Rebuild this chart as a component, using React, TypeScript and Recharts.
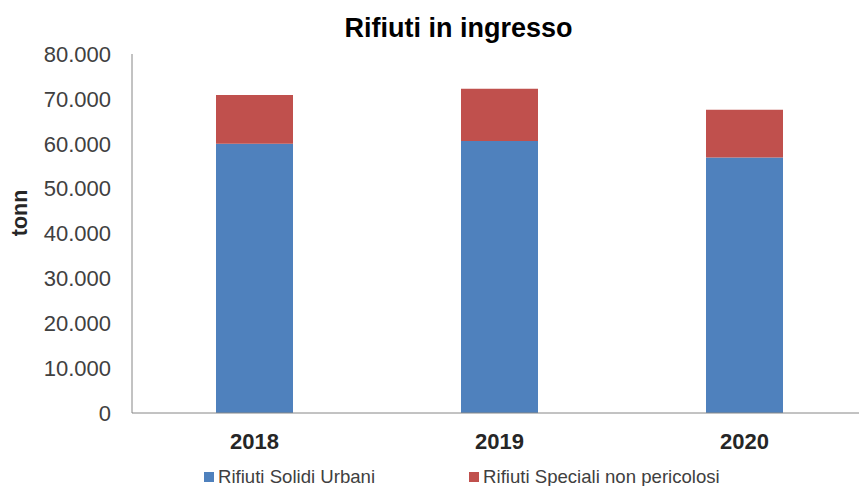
import { BarChart, Bar, XAxis, YAxis, Legend } from "recharts";

const years = ["2018", "2019", "2020"];
const solidiUrbani = [60000, 60600, 56950];
const specialiNonPericolosi = [10850, 11650, 10600];
const yTicks = [0, 10000, 20000, 30000, 40000, 50000, 60000, 70000, 80000];

const data = years.map((year, i) => ({
  year,
  urbani: solidiUrbani[i],
  speciali: specialiNonPericolosi[i],
}));

const fmt = (v: number) => (v === 0 ? "0" : v.toLocaleString("de-DE"));

const legendItems = [
  { label: "Rifiuti Solidi Urbani", color: "#4F81BD" },
  { label: "Rifiuti Speciali non pericolosi", color: "#C0504D" },
];

function ChartLegend() {
  return (
    <div style={{ height: 28, paddingTop: 10, boxSizing: "border-box", display: "flex", paddingLeft: 204, fontFamily: "Liberation Sans, Arial, sans-serif", fontSize: 18.6, lineHeight: "18px", color: "#404040" }}>
      {legendItems.map((it, i) => (
        <div key={it.label} style={{ display: "flex", alignItems: "center", marginRight: i === 0 ? 94 : 0 }}>
          <span style={{ width: 10, height: 10, background: it.color, marginRight: 4, display: "inline-block" }} />
          <span>{it.label}</span>
        </div>
      ))}
    </div>
  );
}

export default function App() {
  return (
    <div style={{ position: "absolute", left: 0, top: 0, width: 859, height: 486, overflow: "hidden", background: "#fff", fontFamily: "Liberation Sans, Arial, sans-serif" }}>
      <div style={{ position: "absolute", left: 0, top: 15, width: 917, textAlign: "center", fontSize: 27, lineHeight: "27px", fontWeight: "bold", color: "#000", zIndex: 2 }}>
        Rifiuti in ingresso
      </div>
      <BarChart width={867} height={486} data={data} margin={{ top: 54, right: 0, left: 0, bottom: 0 }}>
        <XAxis
          dataKey="year"
          height={45}
          tickLine={false}
          axisLine={{ stroke: "#868686" }}
          tickMargin={14}
          tick={{ fontSize: 22, fontWeight: "bold", fill: "#262626" }}
        />
        <YAxis
          width={132}
          domain={[0, 80000]}
          ticks={yTicks}
          tickFormatter={fmt}
          tickLine={false}
          axisLine={{ stroke: "#868686" }}
          tickMargin={15}
          tick={{ fontSize: 22, fill: "#404040" }}
          label={{
            content: () => (
              <text x={27} y={213} transform="rotate(-90 27 213)" textAnchor="middle" fontSize={21.5} fontWeight="bold" fill="#262626">
                tonn
              </text>
            ),
          }}
        />
        <Legend verticalAlign="bottom" wrapperStyle={{ left: 0, width: 859 }} content={() => <ChartLegend />} />
        <Bar dataKey="urbani" name="Rifiuti Solidi Urbani" stackId="a" fill="#4F81BD" barSize={77} isAnimationActive={false} />
        <Bar dataKey="speciali" name="Rifiuti Speciali non pericolosi" stackId="a" fill="#C0504D" barSize={77} isAnimationActive={false} />
      </BarChart>
    </div>
  );
}
